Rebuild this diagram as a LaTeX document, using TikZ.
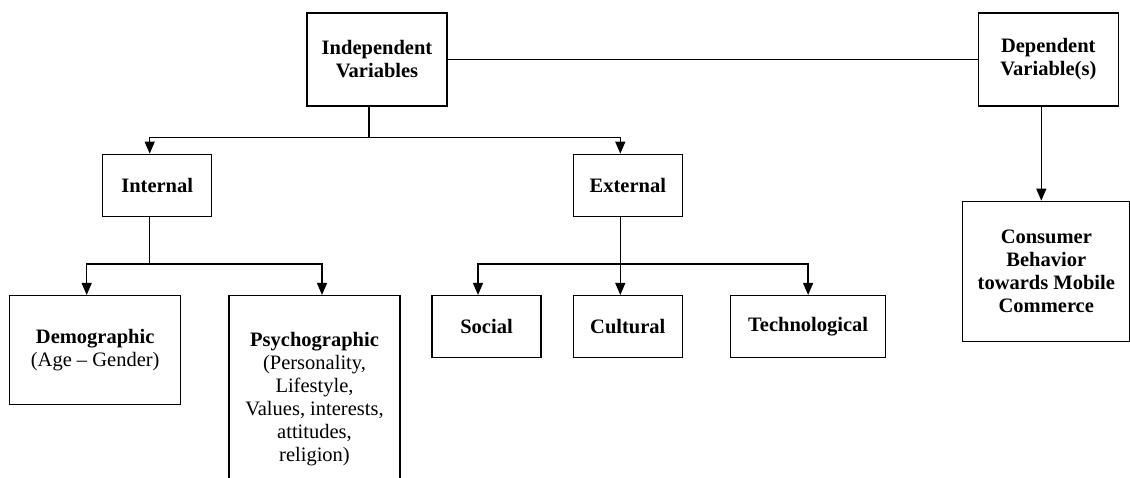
\documentclass[tikz,border=0pt]{standalone}
\usepackage{fontspec}
\setmainfont{Liberation Serif}
\usepackage{tikz}
\usetikzlibrary{positioning, calc, arrows.meta}
\tikzset{box/.style={draw, line width=1.3pt, align=center, inner sep=0pt,
    font=\fontsize{20.5}{23}\selectfont}}
\tikzset{boxb/.style={box, font=\fontsize{20.5}{23}\selectfont\bfseries}}
\tikzset{link/.style={line width=1.3pt}}
\tikzset{>={Triangle[width=10pt,length=12pt]}}

\begin{document}
\begin{tikzpicture}[x=1pt, y=-1pt]
      \clip (0,0) rectangle (1130,478);

      \node[boxb, minimum width=140pt, minimum height=93pt] (indep) at (377,59.5)
        {Independent\\Variables};

      \node[boxb, minimum width=140pt, minimum height=93pt] (dep) [right=530pt of indep]
        {Dependent\\Variable(s)};

      \node[boxb, minimum width=109pt, minimum height=62pt] (internal)
        [below left=47pt and 94pt of indep] {Internal};

      \node[boxb, minimum width=109pt, minimum height=62pt] (external)
        [below right=47pt and 125pt of indep] {External};

      \node[box, minimum width=171pt, minimum height=109pt] (demo)
        [below=78pt of internal, xshift=-62pt]
        {\textbf{Demographic}\\(Age -- Gender)};

      \node[box, minimum width=171pt, minimum height=207pt] (psycho)
        [below right=0pt and 47pt of demo.north east]
        {\textbf{Psychographic}\\(Personality,\\Lifestyle,\\Values, interests,\\attitudes,\\religion)};

      \node[boxb, minimum width=109pt, minimum height=62pt] (cultural)
        [below=78pt of external] {Cultural};

      \node[boxb, minimum width=109pt, minimum height=62pt] (social)
        [left=31pt of cultural] {Social};

      \node[boxb, minimum width=155pt, minimum height=62pt] (techno)
        [right=47pt of cultural] {Technological};

      \node[boxb, minimum width=167pt, minimum height=140pt] (consumer)
        [below=94pt of dep, xshift=-2pt]
        {Consumer\\Behavior\\towards Mobile\\Commerce};

      \draw[link] (indep) -- (dep);

      \draw[link] ([xshift=-8pt]indep.south) -- ++(0,31) coordinate (ivbus);
      \draw[link, ->] (ivbus) -| ([xshift=-7.5pt]internal.north);
      \draw[link, ->] (ivbus) -| ([xshift=-7.5pt]external.north);

      \draw[link] ([xshift=-7.5pt]internal.south) -- ++(0,47) coordinate (inbus);
      \draw[link, ->] (inbus) -| ([xshift=-8.5pt]demo.north);
      \draw[link, ->] (inbus) -| ([xshift=7.5pt]psycho.north);

      \draw[link] ([xshift=-7.5pt]external.south) -- ++(0,47) coordinate (exbus);
      \draw[link, ->] (exbus) -| ([xshift=-8.5pt]social.north);
      \draw[link, ->] (exbus) -- ([xshift=-7.5pt]cultural.north);
      \draw[link, ->] (exbus) -| (techno.north);

      \draw[link, ->] ([xshift=-7pt]dep.south) -- ([xshift=-7pt]dep.south |- consumer.north);

    \end{tikzpicture}
\end{document}
